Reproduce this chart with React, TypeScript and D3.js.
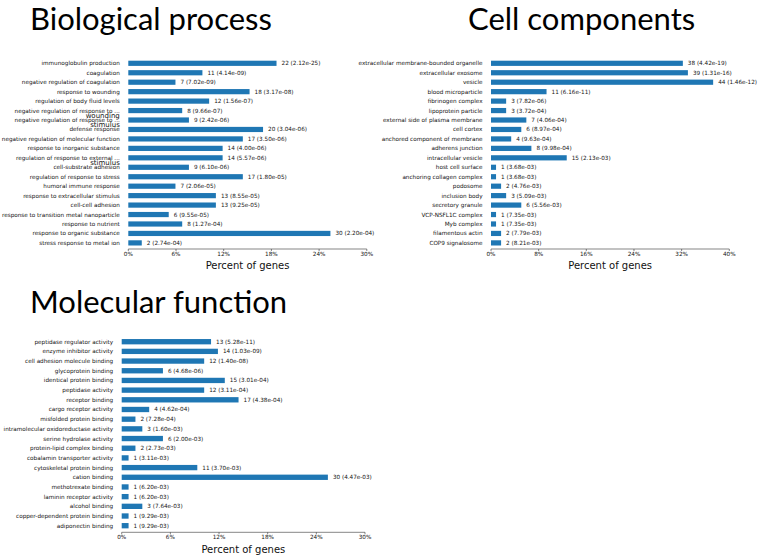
import { scaleLinear, scalePoint, range } from "d3";

const W = 758;
const H = 555;
const TOTAL_GENES = 118; // percent = count / total

// Biological process
const bpLabels = [
  "immunoglobulin production",
  "coagulation",
  "negative regulation of coagulation",
  "response to wounding",
  "regulation of body fluid levels",
  "negative regulation of response to ...",
  "negative regulation of response to ...",
  "defense response",
  "negative regulation of molecular function",
  "response to inorganic substance",
  "regulation of response to external ...",
  "cell-substrate adhesion",
  "regulation of response to stress",
  "humoral immune response",
  "response to extracellular stimulus",
  "cell-cell adhesion",
  "response to transition metal nanoparticle",
  "response to nutrient",
  "response to organic substance",
  "stress response to metal ion",
];
const bpCounts = [22, 11, 7, 18, 12, 8, 9, 20, 17, 14, 14, 9, 17, 7, 13, 13, 6, 8, 30, 2];
const bpPvals = [
  "2.12e-25", "4.14e-09", "7.02e-09", "3.17e-08", "1.56e-07", "9.66e-07", "2.42e-06",
  "3.04e-06", "3.50e-06", "4.00e-06", "5.57e-06", "6.10e-06", "1.80e-05", "2.06e-05",
  "8.55e-05", "9.25e-05", "9.55e-05", "1.27e-04", "2.20e-04", "2.74e-04",
];
// words that spill out of the truncated labels (row index, word)
const bpOverflow: [number, string][] = [
  [5, "wounding"],
  [6, "stimulus"],
  [10, "stimulus"],
];
const bpTicks = [0, 6, 12, 18, 24, 30];

// Cell components
const ccLabels = [
  "extracellular membrane-bounded organelle",
  "extracellular exosome",
  "vesicle",
  "blood microparticle",
  "fibrinogen complex",
  "lipoprotein particle",
  "external side of plasma membrane",
  "cell cortex",
  "anchored component of membrane",
  "adherens junction",
  "intracellular vesicle",
  "host cell surface",
  "anchoring collagen complex",
  "podosome",
  "inclusion body",
  "secretory granule",
  "VCP-NSFL1C complex",
  "Myb complex",
  "filamentous actin",
  "COP9 signalosome",
];
const ccCounts = [38, 39, 44, 11, 3, 3, 7, 6, 4, 8, 15, 1, 1, 2, 3, 6, 1, 1, 2, 2];
const ccPvals = [
  "4.42e-19", "1.31e-16", "1.46e-12", "6.16e-11", "7.82e-06", "3.72e-04", "4.06e-04",
  "8.97e-04", "9.63e-04", "9.98e-04", "2.13e-03", "3.68e-03", "3.68e-03", "4.76e-03",
  "5.09e-03", "5.56e-03", "7.35e-03", "7.35e-03", "7.79e-03", "8.21e-03",
];
const ccTicks = [0, 8, 16, 24, 32, 40];

// Molecular function
const mfLabels = [
  "peptidase regulator activity",
  "enzyme inhibitor activity",
  "cell adhesion molecule binding",
  "glycoprotein binding",
  "identical protein binding",
  "peptidase activity",
  "receptor binding",
  "cargo receptor activity",
  "misfolded protein binding",
  "intramolecular oxidoreductase activity",
  "serine hydrolase activity",
  "protein-lipid complex binding",
  "cobalamin transporter activity",
  "cytoskeletal protein binding",
  "cation binding",
  "methotrexate binding",
  "laminin receptor activity",
  "alcohol binding",
  "copper-dependent protein binding",
  "adiponectin binding",
];
const mfCounts = [13, 14, 12, 6, 15, 12, 17, 4, 2, 3, 6, 2, 1, 11, 30, 1, 1, 3, 1, 1];
const mfPvals = [
  "5.28e-11", "1.03e-09", "1.40e-08", "4.68e-06", "3.01e-04", "3.11e-04", "4.38e-04",
  "4.62e-04", "7.28e-04", "1.60e-03", "2.00e-03", "2.73e-03", "3.11e-03", "3.70e-03",
  "4.47e-03", "6.20e-03", "6.20e-03", "7.64e-03", "9.29e-03", "9.29e-03",
];
const mfTicks = [0, 6, 12, 18, 24, 30];

const BLUE = "#1f77b4";
const SMALL = "'DejaVu Sans', sans-serif";

type PanelProps = {
  title: string;
  titleX: number;
  titleY: number;
  labels: string[];
  counts: number[];
  pvals: string[];
  ticks: number[];
  overflow?: [number, string][];
  x0: number;
  x1: number;
  yFirst: number;
  yLast: number;
  axisY: number;
};

function Panel(p: PanelProps) {
  const idx = range(p.labels.length);
  const x = scaleLinear()
    .domain([0, p.ticks[p.ticks.length - 1]])
    .range([p.x0, p.x1]);
  const y = scalePoint<number>().domain(idx).range([p.yFirst, p.yLast]);
  const barH = y.step() * 0.55;
  const pct = (c: number) => (c / TOTAL_GENES) * 100;

  return (
    <g>
      <text
        x={p.titleX}
        y={p.titleY}
        fontFamily="Lato, 'Open Sans', sans-serif"
        fontSize={31}
        fill="#000"
      >
        {p.title}
      </text>
      {idx.map((i) => (
        <g key={i}>
          <text
            x={p.x0 - 8.5}
            y={y(i)!}
            dy="0.35em"
            textAnchor="end"
            fontFamily={SMALL}
            fontSize={5.7}
            fill="#111"
          >
            {p.labels[i]}
          </text>
          <rect
            x={x(0)}
            y={y(i)! - barH / 2}
            width={x(pct(p.counts[i])) - x(0)}
            height={barH}
            fill={BLUE}
          />
          <text
            x={x(pct(p.counts[i])) + 5}
            y={y(i)!}
            dy="0.35em"
            fontFamily={SMALL}
            fontSize={5.7}
            fill="#111"
          >
            {`${p.counts[i]} (${p.pvals[i]})`}
          </text>
        </g>
      ))}
      {(p.overflow || []).map(([i, word]) => (
        <text
          key={"o" + i}
          x={p.x0 - 8.5}
          y={y(i)! + y.step() / 2}
          dy="0.35em"
          textAnchor="end"
          fontFamily={SMALL}
          fontSize={7}
          fill="#111"
        >
          {word}
        </text>
      ))}
      <line x1={p.x0} x2={p.x1} y1={p.axisY} y2={p.axisY} stroke="#333" strokeWidth={0.6} />
      {p.ticks.map((t) => (
        <g key={t}>
          <line
            x1={x(t)}
            x2={x(t)}
            y1={p.axisY}
            y2={p.axisY + 2}
            stroke="#333"
            strokeWidth={0.6}
          />
          <text
            x={x(t)}
            y={p.axisY + 5}
            dy="0.35em"
            textAnchor="middle"
            fontFamily={SMALL}
            fontSize={5.7}
            fill="#111"
          >
            {t}%
          </text>
        </g>
      ))}
      <text
        x={(p.x0 + p.x1) / 2}
        y={p.axisY + 16.7}
        dy="0.35em"
        textAnchor="middle"
        fontFamily={SMALL}
        fontSize={10}
        fill="#111"
      >
        Percent of genes
      </text>
    </g>
  );
}

export default function App() {
  return (
    <svg
      width={W}
      height={H}
      style={{ position: "absolute", left: 0, top: 0, background: "#fff" }}
    >
      <Panel
        title="Biological process"
        titleX={30}
        titleY={30}
        labels={bpLabels}
        counts={bpCounts}
        pvals={bpPvals}
        ticks={bpTicks}
        overflow={bpOverflow}
        x0={128.3}
        x1={366.8}
        yFirst={63.3}
        yLast={242.9}
        axisY={249}
      />
      <Panel
        title="Cell components"
        titleX={468}
        titleY={30}
        labels={ccLabels}
        counts={ccCounts}
        pvals={ccPvals}
        ticks={ccTicks}
        x0={491}
        x1={729.3}
        yFirst={63.3}
        yLast={242.9}
        axisY={249}
      />
      <Panel
        title="Molecular function"
        titleX={30}
        titleY={312.7}
        labels={mfLabels}
        counts={mfCounts}
        pvals={mfPvals}
        ticks={mfTicks}
        x0={121.7}
        x1={365}
        yFirst={341.7}
        yLast={525.7}
        axisY={532.3}
      />
    </svg>
  );
}
